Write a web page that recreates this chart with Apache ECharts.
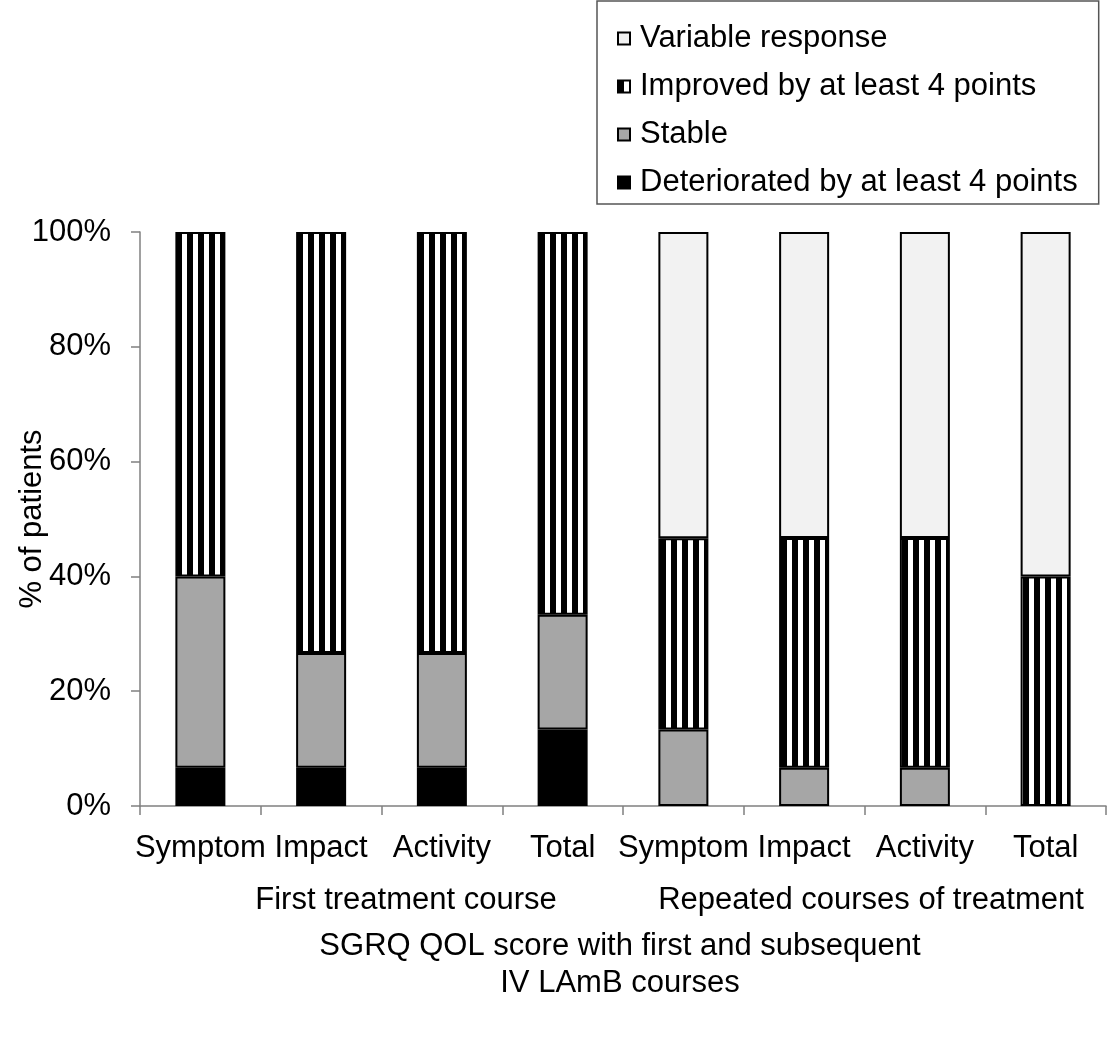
<!DOCTYPE html>
<html>
<head>
<meta charset="utf-8">
<script src="https://cdn.jsdelivr.net/npm/echarts@6/dist/echarts.min.js"></script>
<style>
html,body{margin:0;padding:0;background:#fff;}
#chart{width:1109px;height:1055px;}
</style>
</head>
<body>
<div id="chart"></div>
<script>
var categories = ['Symptom', 'Impact', 'Activity', 'Total', 'Symptom', 'Impact', 'Activity', 'Total'];
var groupLabels = ['First treatment course', 'Repeated courses of treatment'];
var deteriorated = [6.67, 6.67, 6.67, 13.33, null, null, null, null];
var stable = [33.33, 20, 20, 20, 13.33, 6.67, 6.67, null];
var improved = [60, 73.33, 73.33, 66.67, 33.33, 40, 40, 40];
var variable = [null, null, null, null, 53.33, 53.33, 53.33, 60];
var yTicks = [0, 20, 40, 60, 80, 100];
var seriesNames = ['Deteriorated by at least 4 points', 'Stable', 'Improved by at least 4 points', 'Variable response'];
var titleText = 'SGRQ QOL score with first and subsequent\nIV LAmB courses';

var FONT = 'Liberation Sans, Arial, sans-serif';
var FS = 31;
var pc = document.createElement('canvas');
pc.width = 11; pc.height = 10;
var g = pc.getContext('2d');
g.fillStyle = '#ffffff'; g.fillRect(0, 0, 11, 10);
g.fillStyle = '#000000'; g.fillRect(0, 0, 6, 10);

var chart = echarts.init(document.getElementById('chart'), null, {renderer: 'canvas'});
function mk(name, data, color) {
  return {
    name: name, type: 'bar', stack: 'a', data: data, barWidth: 50,
    itemStyle: {color: color, borderColor: '#000', borderWidth: 2},
    emphasis: {disabled: true}
  };
}
chart.setOption({
  animation: false,
  textStyle: {fontFamily: FONT},
  grid: {left: 140, right: 3, top: 232, bottom: 249, containLabel: false, outerBoundsMode: 'none'},
  legend: {
    orient: 'vertical', left: 597, top: 1,
    data: [seriesNames[3], seriesNames[2], seriesNames[1], seriesNames[0]],
    itemWidth: 12, itemHeight: 12, itemGap: 17,
    padding: [22, 21, 6, 20],
    borderColor: '#555', borderWidth: 1.5,
    textStyle: {fontSize: FS, color: '#000', fontFamily: FONT, padding: [0, 0, 0, 5]},
    icon: 'rect', selectedMode: false
  },
  xAxis: {
    type: 'category', data: categories,
    axisLine: {lineStyle: {color: '#808080', width: 1.5}},
    axisTick: {show: true, length: 9, alignWithLabel: false, lineStyle: {color: '#808080', width: 1.5}},
    axisLabel: {fontSize: FS, color: '#000', margin: 27, interval: 0, fontFamily: FONT}
  },
  yAxis: {
    type: 'value', min: 0, max: 100, interval: 20,
    name: '% of patients', nameLocation: 'middle', nameGap: 92, nameMoveOverlap: false,
    nameTextStyle: {fontSize: FS, color: '#000', fontFamily: FONT},
    splitLine: {show: false},
    axisLine: {show: true, lineStyle: {color: '#808080', width: 1.5}},
    axisTick: {show: true, length: 9, lineStyle: {color: '#808080', width: 1.5}},
    axisLabel: {fontSize: FS, color: '#000', margin: 29, formatter: '{value}%', fontFamily: FONT}
  },
  graphic: [
    {type: 'text', x: 406, y: 900, style: {text: groupLabels[0], textAlign: 'center', textVerticalAlign: 'middle', fill: '#000', font: FS + 'px ' + FONT}},
    {type: 'text', x: 871, y: 900, style: {text: groupLabels[1], textAlign: 'center', textVerticalAlign: 'middle', fill: '#000', font: FS + 'px ' + FONT}},
    {type: 'text', x: 620, y: 965, style: {text: titleText, textAlign: 'center', textVerticalAlign: 'middle', fill: '#000', font: FS + 'px ' + FONT, lineHeight: 37}}
  ],
  series: [
    mk(seriesNames[0], deteriorated, '#000000'),
    mk(seriesNames[1], stable, '#a6a6a6'),
    mk(seriesNames[2], improved, {image: pc, repeat: 'repeat'}),
    mk(seriesNames[3], variable, '#f2f2f2')
  ]
});
</script>
</body>
</html>
